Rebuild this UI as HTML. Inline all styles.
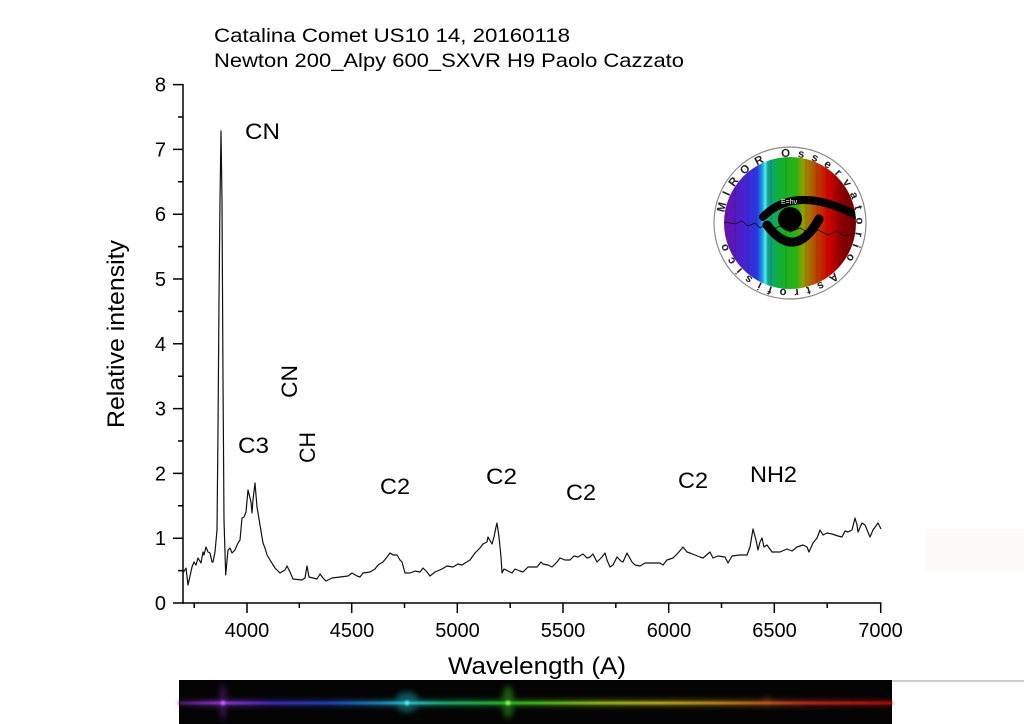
<!DOCTYPE html>
<html><head><meta charset="utf-8"><style>
html,body{margin:0;padding:0;background:#fff;}
svg{display:block;}
text{font-family:"Liberation Sans",Arial,sans-serif;fill:#000;}
</style></head><body>
<svg width="1024" height="724" viewBox="0 0 1024 724" xmlns="http://www.w3.org/2000/svg">
<defs>
<linearGradient id="disc" x1="724" y1="0" x2="857" y2="0" gradientUnits="userSpaceOnUse">
<stop offset="0" stop-color="#6a10a8"/>
<stop offset="0.14" stop-color="#4a20d0"/>
<stop offset="0.25" stop-color="#2838e0"/>
<stop offset="0.29" stop-color="#20a0e0"/>
<stop offset="0.31" stop-color="#50f0f0"/>
<stop offset="0.33" stop-color="#10a090"/>
<stop offset="0.42" stop-color="#10b030"/>
<stop offset="0.55" stop-color="#30b010"/>
<stop offset="0.59" stop-color="#90a000"/>
<stop offset="0.66" stop-color="#b06000"/>
<stop offset="0.72" stop-color="#c03000"/>
<stop offset="0.79" stop-color="#d00000"/>
<stop offset="0.87" stop-color="#900000"/>
<stop offset="1" stop-color="#700000"/>
</linearGradient>
<clipPath id="dc"><circle cx="790" cy="223" r="66"/></clipPath>
<linearGradient id="spec" x1="179" y1="0" x2="892" y2="0" gradientUnits="userSpaceOnUse">
<stop offset="0" stop-color="#50207a"/>
<stop offset="0.06" stop-color="#b040ff"/>
<stop offset="0.13" stop-color="#5030e0"/>
<stop offset="0.21" stop-color="#2050e0"/>
<stop offset="0.28" stop-color="#20a0e0"/>
<stop offset="0.32" stop-color="#30e8f0"/>
<stop offset="0.38" stop-color="#20d080"/>
<stop offset="0.46" stop-color="#30e030"/>
<stop offset="0.53" stop-color="#70e020"/>
<stop offset="0.59" stop-color="#b0e020"/>
<stop offset="0.67" stop-color="#e0d020"/>
<stop offset="0.76" stop-color="#e0a020"/>
<stop offset="0.82" stop-color="#e07020"/>
<stop offset="0.88" stop-color="#e03020"/>
<stop offset="1" stop-color="#d01010"/>
</linearGradient>
<filter id="bl" x="-50%" y="-50%" width="200%" height="200%"><feGaussianBlur stdDeviation="3"/></filter>
<filter id="bl2" x="-50%" y="-50%" width="200%" height="200%"><feGaussianBlur stdDeviation="1"/></filter>
</defs>

<!-- titles -->
<text x="214" y="42" font-size="19.5" textLength="356" lengthAdjust="spacingAndGlyphs">Catalina Comet US10 14, 20160118</text>
<text x="214" y="67" font-size="19.5" textLength="470" lengthAdjust="spacingAndGlyphs">Newton 200_Alpy 600_SXVR H9 Paolo Cazzato</text>

<!-- axes -->
<g stroke="#000" stroke-width="1.5" fill="none">
<line x1="183" y1="84" x2="183" y2="603.7"/>
<line x1="182.3" y1="603" x2="881.5" y2="603"/>
<path d="M173 603H183M173 538.2H183M173 473.4H183M173 408.6H183M173 343.8H183M173 279H183M173 214.2H183M173 149.4H183M173 84.6H183"/>
<path d="M178 570.6H183M178 505.8H183M178 441H183M178 376.2H183M178 311.4H183M178 246.6H183M178 181.8H183M178 117H183"/>
<path d="M247 603V613M351.7 603V613M457.3 603V613M563 603V613M668.7 603V613M774.3 603V613M880.7 603V613"/>
<path d="M194.2 603V608M299.3 603V608M404.5 603V608M510.2 603V608M615.8 603V608M721.5 603V608M827.2 603V608"/>
</g>

<!-- y tick labels -->
<g font-size="20" text-anchor="end">
<text x="166" y="610">0</text>
<text x="166" y="545">1</text>
<text x="166" y="480.5">2</text>
<text x="166" y="415.5">3</text>
<text x="166" y="351">4</text>
<text x="166" y="286">5</text>
<text x="166" y="221">6</text>
<text x="166" y="156.5">7</text>
<text x="166" y="91.5">8</text>
</g>
<!-- x tick labels -->
<g font-size="20" text-anchor="middle">
<text x="247" y="637">4000</text>
<text x="352" y="637">4500</text>
<text x="457.5" y="637">5000</text>
<text x="563" y="637">5500</text>
<text x="669" y="637">6000</text>
<text x="774.5" y="637">6500</text>
<text x="880.5" y="637">7000</text>
</g>

<!-- axis titles -->
<text x="448" y="674" font-size="24" textLength="178" lengthAdjust="spacingAndGlyphs">Wavelength (A)</text>
<text transform="translate(124,428) rotate(-90)" font-size="24" textLength="188" lengthAdjust="spacingAndGlyphs">Relative intensity</text>

<!-- annotations -->
<g font-size="22">
<text x="245" y="139" textLength="35" lengthAdjust="spacingAndGlyphs">CN</text>
<text x="238" y="453" textLength="31" lengthAdjust="spacingAndGlyphs">C3</text>
<text transform="translate(315,463) rotate(-90)" textLength="31" lengthAdjust="spacingAndGlyphs">CH</text>
<text transform="translate(297,398) rotate(-90)" textLength="33" lengthAdjust="spacingAndGlyphs">CN</text>
<text x="380" y="494" textLength="30" lengthAdjust="spacingAndGlyphs">C2</text>
<text x="486" y="484" textLength="31" lengthAdjust="spacingAndGlyphs">C2</text>
<text x="566" y="500" textLength="30" lengthAdjust="spacingAndGlyphs">C2</text>
<text x="678" y="488" textLength="30" lengthAdjust="spacingAndGlyphs">C2</text>
<text x="750" y="482" textLength="47" lengthAdjust="spacingAndGlyphs">NH2</text>
</g>

<!-- spectrum curve -->
<polyline fill="none" stroke="#111" stroke-width="1.2" stroke-linejoin="round" points="
183,573 186,568 188,585 192,567 194,562 196,565 198,558 201,563 203,552 204,555 206,547 208,552 210,553 212,562 213,562 215,552 217,530 218,430 219,300 220,200 221,131 222,200 223,380 224,520 225.7,575 228,550 230,548 232,553 235,550 238,543 240,540 242,518 244,517 246,512 248,490 251,502 252,513 253,500 255,483 257,507 260,525 263,543 265,548 267,555 270,560 275,568 280,573 285,570 287,566 290,572 293,579 302,580 305,578 307,566 309,577 313,578 317,579 320,574 323,578 326,581 332,578 340,577 348,576 352,573 357,576 360,577 363,573 370,572 375,569 378,565 383,562 387,557 390,553 393,555 397,555 400,560 402,562 405,573 410,573 415,571 420,572 423,568 427,572 430,576 435,572 442,569 447,566 453,567 458,564 462,565 465,563 470,560 475,553 480,548 483,544 487,542 488,537 492,544 494,537 496,527 497,523 499,537 501,557 502,573 504,569 508,571 512,573 515,569 520,571 523,572 528,567 533,567 537,567 541,562 543,564 548,565 552,567 557,562 560,558 565,560 570,560 574,556 578,557 583,554 587,558 590,557 593,554 597,562 602,557 605,553 607,560 610,567 613,565 617,557 621,561 623,562 627,553 632,562 635,565 640,566 645,563 652,563 660,563 663,565 667,560 673,558 678,553 683,547 687,552 690,553 695,555 700,557 703,558 710,552 713,558 718,556 725,557 728,563 732,556 740,555 747,555 750,547 753,529 756,540 758,550 760,542 762,538 764,547 767,545 772,552 780,552 787,549 792,551 797,547 803,545 807,547 809,552 813,543 817,538 820,530 823,535 827,533 832,534 838,536 842,537 845,531 848,532 852,530 855,518 857,525 858,532 862,523 865,525 870,537 873,530 878,523 881,529"/>

<!-- logo -->
<g>
<circle cx="790" cy="223" r="76" fill="#fff" stroke="#8a8a8a" stroke-width="1.2"/>
<g clip-path="url(#dc)">
<rect x="723" y="156" width="135" height="134" fill="url(#disc)"/>
<g stroke="#000" stroke-opacity="0.15" stroke-width="1">
<path d="M735 156V290M748 156V290M771 156V290M786 156V290M806 156V290M817 156V290M827 156V290M846 156V290"/>
</g>
<polyline fill="none" stroke="#111" stroke-width="0.8" points="724,222 735,224 742,221 748,226 755,223 760,228 766,224 772,230 780,226 790,232 800,228 810,234 818,230 828,235 836,231 845,236 857,233"/>
<path d="M763 217 Q795 184 856 215" fill="none" stroke="#000" stroke-width="8" stroke-linecap="round"/>
<path d="M767 225 Q795 262 819 219" fill="none" stroke="#000" stroke-width="9" stroke-linecap="round"/>
<circle cx="790" cy="219" r="12" fill="#000"/>
<text x="781" y="204" font-size="7" style="fill:#fff">E=hν</text>
</g>
<path id="ring" d="M724.5,212.6 A66,66 0 0,1 855.5,233.4 A66,66 0 0,1 724.5,212.6" fill="none"/>
<text font-size="11.5" font-weight="bold" style="fill:#222"><textPath href="#ring" textLength="385" lengthAdjust="spacing">MIROR Osservatorio Astrofisico</textPath></text>
</g>

<!-- faint box right -->
<rect x="925" y="529" width="99" height="42" fill="#fdfafa"/>

<!-- spectrum strip -->
<rect x="179" y="680" width="713" height="44" fill="#040404"/>
<line x1="892" y1="681" x2="1024" y2="681" stroke="#999" stroke-width="1"/>
<g filter="url(#bl)" opacity="0.4">
<line x1="179" y1="703" x2="892" y2="703" stroke="url(#spec)" stroke-width="6"/>
<ellipse cx="223" cy="702" rx="3" ry="18" fill="#a030e0"/>
<ellipse cx="407" cy="702" rx="12" ry="10" fill="#20d0e0"/>
<ellipse cx="508" cy="702" rx="6" ry="16" fill="#40e020"/>
<ellipse cx="767" cy="702" rx="5" ry="5" fill="#e07020"/>
</g>
<g filter="url(#bl2)">
<line x1="179" y1="703" x2="892" y2="703" stroke="url(#spec)" stroke-width="2.2"/>
<circle cx="223" cy="703" r="2.5" fill="#d060ff"/>
<circle cx="407" cy="703" r="2.5" fill="#60f0ff"/>
<circle cx="508" cy="703" r="2.5" fill="#90ff50"/>
</g>
</svg>
</body></html>
